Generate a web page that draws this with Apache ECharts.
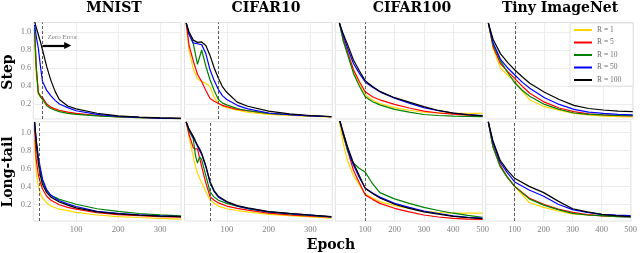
<!DOCTYPE html>
<html><head><meta charset="utf-8">
<script src="https://cdn.jsdelivr.net/npm/echarts@6/dist/echarts.min.js"></script>
<style>html,body{margin:0;padding:0;background:#fff}#c{width:640px;height:253px}</style>
</head><body><div id="c"></div>
<script>
// ---------- data ----------
const datasets = ['MNIST', 'CIFAR10', 'CIFAR100', 'Tiny ImageNet'];
const rowNames = ['Step', 'Long-tail'];
const seriesNames = ['R = 1', 'R = 5', 'R = 10', 'R = 50', 'R = 100'];
const seriesColors = ['#FFD700', '#FF0000', '#008000', '#0000FF', '#000000'];

const xTicksShort = [100, 200, 300];
const xTicksLong = [100, 200, 300, 400, 500];
const yTicks = [0.2, 0.4, 0.6, 0.8, 1.0];
const zeroErrorEpochStep = [20, 80, 100, 100];
const zeroErrorEpochLongTail = [12, 60, 100, 100];
const arrowFrom = [20, 0.85];
const arrowTo = [80, 0.85];

// Step / MNIST
const stepMnistEpoch = [1, 5, 10, 15, 20, 30, 40, 50, 60, 80, 100, 150, 200, 250, 300, 350];
const stepMnistR1   = [0.86, 0.52, 0.31, 0.28, 0.26, 0.19, 0.16, 0.14, 0.125, 0.105, 0.09, 0.07, 0.057, 0.049, 0.043, 0.038];
const stepMnistR5   = [1.0, 0.62, 0.33, 0.29, 0.27, 0.20, 0.165, 0.145, 0.13, 0.11, 0.095, 0.072, 0.058, 0.05, 0.044, 0.039];
const stepMnistR10  = [1.05, 0.6, 0.32, 0.28, 0.25, 0.18, 0.15, 0.13, 0.115, 0.095, 0.085, 0.067, 0.055, 0.047, 0.042, 0.037];
const stepMnistR50  = [1.08, 0.95, 0.82, 0.62, 0.45, 0.35, 0.29, 0.24, 0.20, 0.16, 0.125, 0.085, 0.062, 0.05, 0.043, 0.038];
const stepMnistR100 = [1.12, 1.05, 0.97, 0.89, 0.80, 0.615, 0.46, 0.34, 0.25, 0.178, 0.145, 0.097, 0.068, 0.053, 0.045, 0.039];

// Step / CIFAR10
const stepCifar10Epoch = [3, 10, 20, 30, 40, 50, 60, 70, 80, 90, 100, 125, 150, 200, 250, 300, 350];
const stepCifar10R1   = [1.08, 0.80, 0.59, 0.48, 0.45, 0.43, 0.39, 0.27, 0.21, 0.175, 0.16, 0.13, 0.11, 0.085, 0.072, 0.062, 0.055];
const stepCifar10R5   = [1.10, 0.85, 0.68, 0.53, 0.45, 0.35, 0.26, 0.23, 0.205, 0.185, 0.17, 0.14, 0.125, 0.096, 0.08, 0.068, 0.058];
const stepCifar10R10  = [1.10, 0.98, 0.87, 0.64, 0.80, 0.62, 0.47, 0.35, 0.25, 0.21, 0.19, 0.15, 0.125, 0.096, 0.08, 0.068, 0.058];
const stepCifar10R50  = [1.10, 0.97, 0.88, 0.87, 0.86, 0.76, 0.58, 0.46, 0.36, 0.29, 0.25, 0.185, 0.145, 0.10, 0.08, 0.068, 0.058];
const stepCifar10R100 = [1.10, 1.0, 0.91, 0.885, 0.89, 0.85, 0.74, 0.60, 0.485, 0.39, 0.33, 0.22, 0.175, 0.12, 0.09, 0.072, 0.06];

// Step / CIFAR100
const stepCifar100Epoch = [12, 25, 40, 60, 80, 100, 125, 150, 200, 250, 300, 350, 400, 450, 500];
const stepCifar100R1   = [1.10, 0.92, 0.76, 0.56, 0.42, 0.30, 0.245, 0.205, 0.16, 0.13, 0.108, 0.1, 0.096, 0.096, 0.096];
const stepCifar100R5   = [1.10, 0.93, 0.78, 0.58, 0.45, 0.335, 0.28, 0.245, 0.195, 0.155, 0.12, 0.1, 0.088, 0.075, 0.067];
const stepCifar100R10  = [1.10, 0.90, 0.75, 0.54, 0.40, 0.28, 0.225, 0.19, 0.14, 0.11, 0.083, 0.072, 0.066, 0.062, 0.06];
const stepCifar100R50  = [1.10, 0.96, 0.82, 0.65, 0.54, 0.445, 0.385, 0.335, 0.265, 0.21, 0.16, 0.125, 0.1, 0.083, 0.07];
const stepCifar100R100 = [1.10, 0.98, 0.86, 0.69, 0.57, 0.46, 0.395, 0.34, 0.27, 0.22, 0.17, 0.128, 0.098, 0.08, 0.067];

// Step / Tiny ImageNet
const stepTinyEpoch = [9, 25, 50, 75, 100, 125, 150, 200, 250, 300, 350, 400, 450, 500];
const stepTinyR1   = [1.10, 0.82, 0.60, 0.52, 0.45, 0.34, 0.245, 0.17, 0.13, 0.095, 0.078, 0.066, 0.06, 0.055];
const stepTinyR5   = [1.10, 0.84, 0.65, 0.56, 0.48, 0.395, 0.32, 0.22, 0.155, 0.115, 0.09, 0.078, 0.07, 0.067];
const stepTinyR10  = [1.10, 0.86, 0.68, 0.55, 0.43, 0.35, 0.285, 0.195, 0.14, 0.10, 0.085, 0.078, 0.072, 0.07];
const stepTinyR50  = [1.10, 0.88, 0.70, 0.60, 0.52, 0.44, 0.375, 0.27, 0.195, 0.14, 0.11, 0.096, 0.085, 0.078];
const stepTinyR100 = [1.10, 0.92, 0.76, 0.66, 0.575, 0.50, 0.43, 0.33, 0.25, 0.185, 0.15, 0.133, 0.12, 0.115];

// Long-tail / MNIST
const ltMnistEpoch = [1, 5, 10, 15, 20, 30, 40, 60, 80, 100, 150, 200, 250, 300, 350];
const ltMnistR1   = [0.92, 0.55, 0.40, 0.32, 0.27, 0.215, 0.18, 0.145, 0.128, 0.11, 0.08, 0.063, 0.052, 0.043, 0.035];
const ltMnistR5   = [1.05, 0.70, 0.53, 0.44, 0.37, 0.29, 0.245, 0.195, 0.165, 0.145, 0.105, 0.085, 0.072, 0.062, 0.055];
const ltMnistR10  = [1.12, 0.88, 0.70, 0.56, 0.45, 0.35, 0.30, 0.255, 0.228, 0.2, 0.15, 0.12, 0.097, 0.082, 0.07];
const ltMnistR50  = [1.12, 0.92, 0.73, 0.60, 0.48, 0.36, 0.30, 0.24, 0.205, 0.175, 0.12, 0.098, 0.083, 0.07, 0.062];
const ltMnistR100 = [1.12, 0.90, 0.66, 0.52, 0.42, 0.33, 0.28, 0.225, 0.19, 0.16, 0.115, 0.092, 0.078, 0.068, 0.061];

// Long-tail / CIFAR10
const ltCifar10Epoch = [3, 10, 20, 25, 30, 35, 40, 50, 60, 70, 80, 100, 125, 150, 200, 250, 300, 350];
const ltCifar10R1   = [1.12, 0.95, 0.73, 0.63, 0.55, 0.49, 0.44, 0.34, 0.25, 0.21, 0.18, 0.15, 0.13, 0.115, 0.088, 0.072, 0.06, 0.045];
const ltCifar10R5   = [1.12, 0.98, 0.83, 0.82, 0.82, 0.72, 0.62, 0.44, 0.285, 0.245, 0.215, 0.18, 0.155, 0.135, 0.10, 0.082, 0.068, 0.055];
const ltCifar10R10  = [1.12, 1.02, 0.93, 0.75, 0.66, 0.73, 0.70, 0.52, 0.34, 0.28, 0.245, 0.21, 0.178, 0.15, 0.115, 0.092, 0.076, 0.06];
const ltCifar10R50  = [1.12, 1.03, 0.95, 0.90, 0.85, 0.80, 0.76, 0.62, 0.44, 0.34, 0.28, 0.225, 0.18, 0.155, 0.115, 0.095, 0.078, 0.06];
const ltCifar10R100 = [1.12, 1.04, 0.96, 0.91, 0.86, 0.82, 0.77, 0.63, 0.455, 0.35, 0.29, 0.23, 0.185, 0.16, 0.117, 0.098, 0.08, 0.061];

// Long-tail / CIFAR100
const ltCifar100Epoch = [12, 25, 40, 50, 60, 80, 100, 125, 150, 200, 250, 300, 350, 400, 450, 500];
const ltCifar100R1   = [1.12, 0.88, 0.68, 0.60, 0.52, 0.42, 0.315, 0.27, 0.23, 0.185, 0.155, 0.125, 0.108, 0.1, 0.1, 0.1];
const ltCifar100R5   = [1.15, 0.97, 0.80, 0.69, 0.58, 0.44, 0.305, 0.255, 0.21, 0.155, 0.115, 0.08, 0.058, 0.043, 0.035, 0.03];
const ltCifar100R10  = [1.15, 0.98, 0.80, 0.72, 0.66, 0.60, 0.56, 0.43, 0.33, 0.26, 0.21, 0.165, 0.13, 0.1, 0.075, 0.055];
const ltCifar100R50  = [1.15, 1.0, 0.82, 0.72, 0.64, 0.50, 0.38, 0.325, 0.28, 0.21, 0.165, 0.125, 0.097, 0.07, 0.055, 0.045];
const ltCifar100R100 = [1.15, 1.0, 0.84, 0.75, 0.66, 0.52, 0.38, 0.32, 0.27, 0.2, 0.155, 0.115, 0.09, 0.065, 0.05, 0.04];

// Long-tail / Tiny ImageNet
const ltTinyEpoch = [9, 25, 50, 75, 100, 150, 200, 250, 300, 350, 400, 450, 500];
const ltTinyR1   = [1.12, 0.84, 0.63, 0.50, 0.40, 0.22, 0.165, 0.125, 0.092, 0.08, 0.073, 0.066, 0.061];
const ltTinyR5   = [1.12, 0.85, 0.64, 0.50, 0.40, 0.27, 0.2, 0.145, 0.11, 0.085, 0.07, 0.064, 0.061];
const ltTinyR10  = [1.12, 0.84, 0.62, 0.50, 0.40, 0.26, 0.19, 0.14, 0.098, 0.08, 0.073, 0.062, 0.055];
const ltTinyR50  = [1.12, 0.89, 0.67, 0.55, 0.45, 0.36, 0.29, 0.2, 0.14, 0.11, 0.088, 0.078, 0.073];
const ltTinyR100 = [1.12, 0.91, 0.69, 0.58, 0.49, 0.40, 0.33, 0.235, 0.15, 0.115, 0.088, 0.072, 0.061];

// ---------- assembly ----------
const panels = [
  [stepMnistEpoch, [stepMnistR1, stepMnistR5, stepMnistR10, stepMnistR50, stepMnistR100]],
  [stepCifar10Epoch, [stepCifar10R1, stepCifar10R5, stepCifar10R10, stepCifar10R50, stepCifar10R100]],
  [stepCifar100Epoch, [stepCifar100R1, stepCifar100R5, stepCifar100R10, stepCifar100R50, stepCifar100R100]],
  [stepTinyEpoch, [stepTinyR1, stepTinyR5, stepTinyR10, stepTinyR50, stepTinyR100]],
  [ltMnistEpoch, [ltMnistR1, ltMnistR5, ltMnistR10, ltMnistR50, ltMnistR100]],
  [ltCifar10Epoch, [ltCifar10R1, ltCifar10R5, ltCifar10R10, ltCifar10R50, ltCifar10R100]],
  [ltCifar100Epoch, [ltCifar100R1, ltCifar100R5, ltCifar100R10, ltCifar100R50, ltCifar100R100]],
  [ltTinyEpoch, [ltTinyR1, ltTinyR5, ltTinyR10, ltTinyR50, ltTinyR100]]
];

const colLeft = [33.3, 184.5, 335.3, 485.7];
const colWidth = [147.7, 147.7, 147.2, 147.3];
const rowTop = [22.5, 121.7];
const rowHeight = [96.5, 99.3];
const xMin = [-2, -1, -2, 0];
const xMax = [350, 352, 500, 501];
const yMin = [0.033, 0.013];
const yMax = [1.106, 1.123];

const tickFont = { fontFamily: 'Liberation Serif', fontSize: 8.5, color: '#808080' };
const grids = [], xAxes = [], yAxes = [], series = [];

for (let row = 0; row < 2; row++) {
  for (let col = 0; col < 4; col++) {
    const i = row * 4 + col;
    grids.push({ left: colLeft[col], top: rowTop[row], width: colWidth[col], height: rowHeight[row],
      show: true, borderColor: '#e2e2e2', borderWidth: 1, backgroundColor: '#fff', containLabel: false });
    const xt = col < 2 ? xTicksShort : xTicksLong;
    xAxes.push({ type: 'value', gridIndex: i, min: xMin[col], max: xMax[col],
      axisLine: { show: false }, axisTick: { show: false, customValues: xt },
      axisLabel: Object.assign({ show: row === 1, customValues: xt, margin: 4 }, tickFont),
      splitLine: { show: true, lineStyle: { color: '#e8e8e8', width: 0.8 } } });
    yAxes.push({ type: 'value', gridIndex: i, min: yMin[row], max: yMax[row],
      axisLine: { show: false }, axisTick: { show: false, customValues: yTicks },
      axisLabel: Object.assign({ show: col === 0, customValues: yTicks, margin: 2,
        formatter: v => Number(v).toFixed(1) }, tickFont),
      splitLine: { show: true, lineStyle: { color: '#e8e8e8', width: 0.8 } } });
    const [epochs, vals] = panels[i];
    for (let r = 0; r < 5; r++) {
      const s = {
        type: 'line', name: seriesNames[r], xAxisIndex: i, yAxisIndex: i,
        data: epochs.map((e, k) => [e, vals[r][k]]),
        showSymbol: false, symbol: 'none', silent: true, animation: false, clip: true,
        lineStyle: { color: seriesColors[r], width: 1.2 }, itemStyle: { color: seriesColors[r] }
      };
      if (r === 0) {
        s.markLine = { silent: true, animation: false, symbol: ['none', 'none'], label: { show: false },
          lineStyle: { color: '#333', type: [3, 2], width: 0.8 },
          data: [{ xAxis: (row === 0 ? zeroErrorEpochStep : zeroErrorEpochLongTail)[col] }] };
      }
      if (i === 0 && r === 4) {
        s.markLine = { silent: true, animation: false, symbol: ['none', 'triangle'], symbolSize: 7,
          lineStyle: { color: '#000', type: 'solid', width: 2.2 },
          label: { show: true, position: 'insideStartTop', formatter: 'Zero Error', distance: 5,
            fontFamily: 'Liberation Serif', fontSize: 7, color: '#808080' },
          data: [[{ coord: arrowFrom }, { coord: arrowTo }]] };
      }
      series.push(s);
    }
  }
}

const titleCenters = [114, 266, 412, 560];
const bold = 'bold 14px "DejaVu Serif"';
const graphic = datasets.map((t, c) => ({ type: 'text', x: titleCenters[c], y: 8.5,
  style: { text: t, font: bold, fill: '#000', align: 'center', verticalAlign: 'middle' } }));
graphic.push({ type: 'text', x: 8.5, y: 72, rotation: Math.PI / 2,
  style: { text: rowNames[0], font: bold, fill: '#000', align: 'center', verticalAlign: 'middle' } });
graphic.push({ type: 'text', x: 8.5, y: 172, rotation: Math.PI / 2,
  style: { text: rowNames[1], font: bold, fill: '#000', align: 'center', verticalAlign: 'middle' } });
graphic.push({ type: 'text', x: 331, y: 245,
  style: { text: 'Epoch', font: bold, fill: '#000', align: 'center', verticalAlign: 'middle' } });

const chart = echarts.init(document.getElementById('c'), null, { renderer: 'canvas' });
chart.setOption({
  animation: false,
  backgroundColor: '#fff',
  grid: grids, xAxis: xAxes, yAxis: yAxes, series: series,
  legend: { data: seriesNames, orient: 'vertical', left: 570, top: 23,
    padding: [2, 12, 1, 4], itemGap: 2.5, itemWidth: 18, itemHeight: 2, icon: 'rect',
    selectedMode: false, backgroundColor: '#fff', borderColor: '#d9d9d9', borderWidth: 0.8, borderRadius: 2,
    textStyle: { fontFamily: 'Liberation Serif', fontSize: 7.5, color: '#707070', lineHeight: 10 } },
  graphic: graphic
});
</script></body></html>
